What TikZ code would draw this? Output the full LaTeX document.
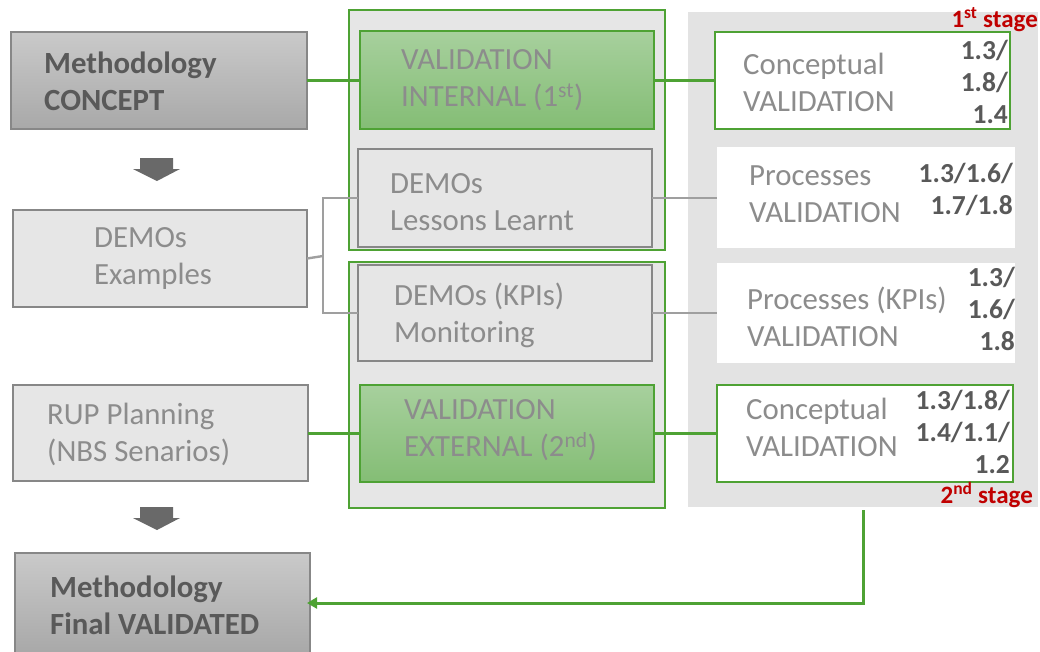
\documentclass[tikz,border=0pt]{standalone}
\usepackage{fontspec}
\setmainfont{Carlito}
\usetikzlibrary{arrows.meta}
\definecolor{vgreen}{RGB}{78,162,52}
\definecolor{boxfill}{RGB}{230,230,230}
\definecolor{boxline}{RGB}{135,135,135}
\definecolor{lighttxt}{RGB}{140,140,140}
\definecolor{darktxt}{RGB}{89,89,89}
\definecolor{stagered}{RGB}{192,0,0}
\definecolor{panelbg}{RGB}{227,227,227}
\definecolor{arrowgray}{RGB}{105,105,105}
\begin{document}
\begin{tikzpicture}[x=1pt,y=-1pt,
  box/.style={rectangle, inner sep=0pt, outer sep=0pt, anchor=north west},
  lightbox/.style={box, fill=boxfill, draw=boxline, line width=1.8pt},
  darkbox/.style={box, top color=gray!42, bottom color=gray!68, draw=boxline, line width=1.8pt},
  greenbox/.style={box, top color={rgb,255:red,167;green,208;blue,157}, bottom color={rgb,255:red,132;green,189;blue,117}, draw=vgreen, line width=1.8pt},
  outerbox/.style={box, fill=boxfill, draw=vgreen, line width=2.8pt},
  whitebox/.style={box, fill=white},
  gwhitebox/.style={box, fill=white, draw=vgreen, line width=2.8pt},
  txt/.style={font=\fontsize{30.8}{37}\selectfont, align=left, anchor=west, inner sep=0pt, text=lighttxt},
  btxt/.style={font=\fontsize{30.8}{37}\bfseries\selectfont, align=left, anchor=west, inner sep=0pt, text=darktxt},
  num/.style={font=\fontsize{27.5}{32}\bfseries\selectfont, align=right, anchor=east, inner sep=0pt, text=darktxt},
  stage/.style={font=\fontsize{25}{28}\bfseries\selectfont, anchor=east, inner sep=0pt, text=stagered},
  gline/.style={draw=vgreen, line width=3pt},
  grline/.style={draw=boxline!80, line width=2.4pt},
  downarrow/.style={fill=arrowgray, draw=none}
]
\useasboundingbox (0,0) rectangle (1040,651);

% right panel
\node[box, fill=panelbg, minimum width=350pt, minimum height=495pt] (panel) at (688,12) {};

% outer green groups
\node[outerbox, minimum width=316pt, minimum height=240pt] (g1) at (349,10) {};
\node[outerbox, minimum width=316pt, minimum height=246pt] (g2) at (349,262) {};

% left column
\node[darkbox, minimum width=296pt, minimum height=97pt] (mc) at (11,32) {};
\node[lightbox, minimum width=294pt, minimum height=97pt] (de) at (13,210) {};
\node[lightbox, minimum width=295pt, minimum height=96pt] (rup) at (13,385) {};
\node[darkbox, minimum width=295pt, minimum height=100pt] (mf) at (15,553) {};

% middle column
\node[greenbox, minimum width=294pt, minimum height=98pt] (vi) at (360,31) {};
\node[lightbox, minimum width=294pt, minimum height=98pt] (ll) at (358,149) {};
\node[lightbox, minimum width=294pt, minimum height=96pt] (mo) at (358,265) {};
\node[greenbox, minimum width=294pt, minimum height=97pt] (ve) at (360,385) {};

% right column
\node[gwhitebox, minimum width=295pt, minimum height=97pt] (cv1) at (715,32) {};
\node[whitebox, minimum width=298pt, minimum height=101pt] (pv) at (717,147) {};
\node[whitebox, minimum width=298pt, minimum height=100pt] (pk) at (717,263) {};
\node[gwhitebox, minimum width=296pt, minimum height=97pt] (cv2) at (717,385) {};

% down arrows
\path[downarrow] (140,158) -- (173,158) -- (173,169) -- (180,169) -- (157,181) -- (133,169) -- (140,169) -- cycle;
\path[downarrow] (140,507) -- (173,507) -- (173,518) -- (180,518) -- (157,530) -- (133,518) -- (140,518) -- cycle;

% texts
\node[btxt] (tmc) at (44,81) {Methodology\\CONCEPT};
\node[txt] (tde) at (94,258) {DEMOs\\Examples};
\node[txt] (trup) at (47,434) {RUP Planning\\(NBS Senarios)};
\node[btxt] (tmf) at (50,605) {Methodology\\Final VALIDATED};

\node[txt] (tvi) at (401,80) {VALIDATION\\INTERNAL (1\textsuperscript{st})};
\node[txt] (tll) at (390,202) {DEMOs\\Lessons Learnt};
\node[txt] (tmo) at (394,315) {DEMOs (KPIs)\\Monitoring};
\node[txt] (tve) at (404,430) {VALIDATION\\EXTERNAL (2\textsuperscript{nd})};

\node[txt] (tcv1) at (743,82) {Conceptual\\VALIDATION};
\node[txt] (tpv) at (749,194) {Processes\\VALIDATION};
\node[txt] (tpk) at (747,317) {Processes (KPIs)\\VALIDATION};
\node[txt] (tcv2) at (746,427) {Conceptual\\VALIDATION};

\node[num] (n1) at (1008,82) {1.3/\\1.8/\\1.4};
\node[num] (n2) at (1013,189) {1.3/1.6/\\1.7/1.8};
\node[num] (n3) at (1015,309) {1.3/\\1.6/\\1.8};
\node[num] (n4) at (1010,432) {1.3/1.8/\\1.4/1.1/\\1.2};

\node[stage] (s1) at (1038,20) {1\textsuperscript{st} stage};
\node[stage] (s2) at (1033,495) {2\textsuperscript{nd} stage};

% connectors
\draw[gline] (mc.east) -- (mc.east -| vi.west);
\draw[gline] (vi.east) -- (vi.east -| cv1.west);
\coordinate (j) at (323,256);
\draw[grline] (de.east) -- (j);
\draw[grline] (ll.west) -| (j) |- (mo.west);
\draw[grline] (ll.east) -- (ll.east -| pv.west);
\draw[grline] (mo.east) -- (mo.east -| pk.west);
\draw[gline] (rup.east) -- (rup.east -| ve.west);
\draw[gline] (ve.east) -- (ve.east -| cv2.west);
\coordinate (fs) at (863,510);
\draw[gline, -{Triangle[length=10pt,width=11pt]}, shorten >=-3pt] (fs) |- (mf.east);
\end{tikzpicture}
\end{document}
